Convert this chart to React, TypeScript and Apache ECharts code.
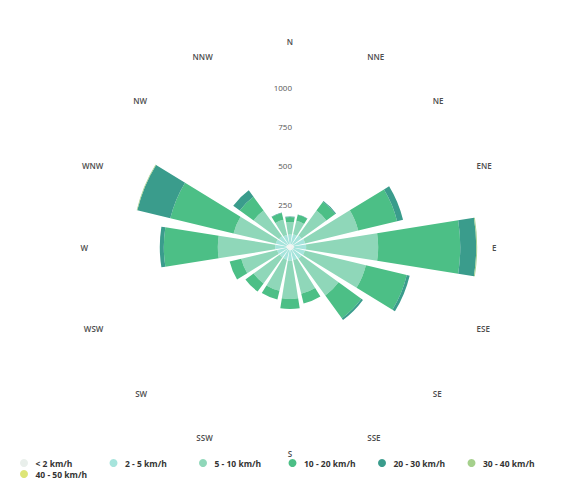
import React, { useEffect, useRef } from 'react';
import * as echarts from 'echarts';

const directions = ['N', 'NNE', 'NE', 'ENE', 'E', 'ESE', 'SE', 'SSE', 'S', 'SSW', 'SW', 'WSW', 'W', 'WNW', 'NW', 'NNW'];
const speedBands = ['< 2 km/h', '2 - 5 km/h', '5 - 10 km/h', '10 - 20 km/h', '20 - 30 km/h', '30 - 40 km/h', '40 - 50 km/h'];
const bandColors = ['#e9efeb', '#a6e4dc', '#8fd7b9', '#4cbf86', '#3a9c8c', '#a5d08c', '#dde576'];

const below2 = [18, 20, 22, 25, 26, 24, 22, 20, 21, 20, 19, 20, 24, 23, 20, 18];
const from2to5 = [62, 65, 70, 75, 78, 74, 70, 66, 68, 64, 63, 65, 72, 70, 66, 62];
const from5to10 = [81, 89, 198, 352, 464, 405, 295, 224, 246, 206, 208, 238, 369, 281, 204, 101];
const from10to20 = [32, 39, 71, 258, 529, 271, 181, 65, 65, 58, 65, 77, 348, 419, 110, 45];
const from20to30 = [4, 3, 6, 39, 103, 19, 13, 0, 0, 0, 0, 0, 26, 219, 52, 3];
const from30to40 = [0, 0, 0, 0, 6, 0, 0, 0, 0, 0, 0, 0, 0, 4, 0, 0];
const from40to50 = [0, 0, 0, 0, 0, 0, 0, 0, 0, 0, 0, 0, 0, 0, 0, 0];

const radiusTickLabels = [250, 500, 750, 1000];
const radiusMax = 1250;
const radiusStep = 250;

const bandData = [below2, from2to5, from5to10, from10to20, from20to30, from30to40, from40to50];

export default function App() {
  const ref = useRef<HTMLDivElement>(null);

  useEffect(() => {
    if (!ref.current) return;
    const chart = echarts.init(ref.current, undefined, { renderer: 'svg' });
    const font = '"Open Sans", "DejaVu Sans", sans-serif';
    const legendBase = {
      icon: 'circle',
      left: 20,
      width: 560,
      padding: 0,
      itemGap: 0,
      itemWidth: 13,
      itemHeight: 8,
      textStyle: {
        width: 74,
        fontSize: 8.5,
        lineHeight: 10,
        fontWeight: 'bold',
        color: '#333',
        fontFamily: font,
      },
    };
    chart.setOption({
      animation: false,
      backgroundColor: '#ffffff',
      polar: { center: [290, 247], radius: 194 },
      angleAxis: {
        type: 'category',
        data: directions,
        startAngle: 90,
        clockwise: true,
        boundaryGap: false,
        axisLine: { show: false },
        axisTick: { show: false },
        splitLine: { show: false },
        axisLabel: {
          margin: 8,
          fontSize: 8,
          fontWeight: 600,
          color: '#4d4d4d',
          fontFamily: font,
        },
      },
      radiusAxis: {
        type: 'value',
        min: 0,
        max: radiusMax,
        interval: radiusStep,
        axisLine: { show: false },
        axisTick: { show: false },
        splitLine: { show: false },
        z: 10,
        axisLabel: {
          margin: -2,
          fontSize: 8,
          color: '#555',
          fontFamily: font,
          verticalAlign: 'bottom',
          formatter: (v: number) => (radiusTickLabels.indexOf(v) >= 0 ? String(v) : ''),
        },
      },
      legend: [
        { ...legendBase, top: 458, data: speedBands.slice(0, 6) },
        { ...legendBase, top: 469, data: speedBands.slice(6) },
      ],
      series: speedBands.map((name, i) => ({
        name,
        type: 'bar',
        coordinateSystem: 'polar',
        stack: 'wind',
        barCategoryGap: '20%',
        itemStyle: { color: bandColors[i] },
        data: bandData[i],
      })),
    });
    return () => chart.dispose();
  }, []);

  return (
    <div
      ref={ref}
      style={{ position: 'absolute', left: 0, top: 0, width: 561, height: 481 }}
    />
  );
}
